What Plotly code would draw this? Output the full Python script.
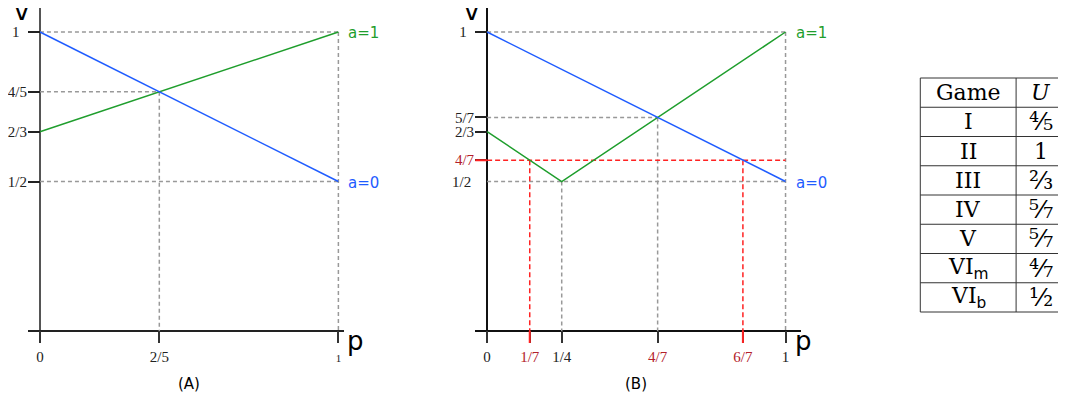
import plotly.graph_objects as go

W, H = 1066, 398
OFF = 8  # the page body adds an 8px margin around the figure

# ---- panel (A) ----
a_p = [0, 1]
a_v_a0 = [1, 1/2]          # blue, a=0
a_v_a1 = [2/3, 1]          # green, a=1
a_xticks = [0, 2/5, 1]
a_xlabels = ["0", "2/5", "<span style='font-size:11px'>1</span>"]
a_yticks = [1, 4/5, 2/3, 1/2]
a_ylabels = ["1\u2007", "4/5", "2/3", "1/2"]
a_hguides = [(1, 1), (4/5, 2/5), (1/2, 1)]   # (v level, p end)
a_vguides = [(1, 1), (2/5, 4/5)]             # (p, v end)

# ---- panel (B) ----
b_p_a0 = [0, 1]
b_v_a0 = [1, 1/2]
b_p_a1 = [0, 1/4, 1]
b_v_a1 = [2/3, 1/2, 1]
b_xticks = [0, 1/7, 1/4, 4/7, 6/7, 1]
b_xlabels = ["0", "1/7", "1/4", "4/7", "6/7", "1"]
b_yticks = [1, 5/7, 2/3, 4/7]
b_ylabels = ["1\u2007", "5/7", "2/3", "4/7"]
b_red_ticks = ["1/7", "6/7", "4/7"]
b_hguides = [(1, 1), (5/7, 4/7), (1/2, 1)]
b_vguides = [(1, 1), (4/7, 5/7), (1/4, 1/2)]
b_red_h = [(4/7, 1)]
b_red_v = [(1/7, 4/7), (6/7, 4/7)]

# ---- table ----
table_header = ["Game", "<i>U</i>"]
games = ["I", "II", "III", "IV", "V",
         "VI<sub><span style=\"font-family:DejaVu Sans\">m</span></sub>",
         "VI<sub><span style=\"font-family:DejaVu Sans\">b</span></sub>"]
u_vals = ["\u2074\u2044\u2085", "1", "\u00b2\u2044\u2083", "\u2075\u2044\u2087",
          "\u2075\u2044\u2087", "\u2074\u2044\u2087", "\u00b9\u2044\u2082"]

GREEN = "#1f9e2d"
BLUE = "#1f5cff"
RED = "#ff2222"
DARKRED = "#b3202a"
GREY = "#999999"
TICKFONT = dict(family="Liberation Serif", size=15, color="#222")
PX = 299  # pixels per unit


def fx(px):
    return (px - OFF) / W


def fy(px):
    return (H - (px - OFF)) / H


def red(s):
    return "<span style='color:%s'>%s</span>" % (DARKRED, s)


def guides(hs, vs):
    xs, ys = [], []
    for v, pe in hs:
        xs += [0, pe, None]
        ys += [v, v, None]
    for p, ve in vs:
        xs += [p, p, None]
        ys += [ve, 0, None]
    return xs, ys


fig = go.Figure()

# panel A traces
gx, gy = guides(a_hguides, a_vguides)
fig.add_trace(go.Scatter(x=gx, y=gy, mode="lines", xaxis="x", yaxis="y",
                         line=dict(color=GREY, width=1.5, dash="4px,3px")))
fig.add_trace(go.Scatter(x=a_p, y=a_v_a1, mode="lines", xaxis="x", yaxis="y",
                         line=dict(color=GREEN, width=1.5)))
fig.add_trace(go.Scatter(x=a_p, y=a_v_a0, mode="lines", xaxis="x", yaxis="y",
                         line=dict(color=BLUE, width=1.5)))

# panel B traces
gx, gy = guides(b_hguides, b_vguides)
fig.add_trace(go.Scatter(x=gx, y=gy, mode="lines", xaxis="x2", yaxis="y2",
                         line=dict(color=GREY, width=1.5, dash="4px,3px")))
rx, ry = guides(b_red_h, b_red_v)
fig.add_trace(go.Scatter(x=rx, y=ry, mode="lines", xaxis="x2", yaxis="y2",
                         line=dict(color=RED, width=1.5, dash="5px,3px")))
fig.add_trace(go.Scatter(x=b_p_a1, y=b_v_a1, mode="lines", xaxis="x2", yaxis="y2",
                         line=dict(color=GREEN, width=1.5)))
fig.add_trace(go.Scatter(x=b_p_a0, y=b_v_a0, mode="lines", xaxis="x2", yaxis="y2",
                         line=dict(color=BLUE, width=1.5)))

lo = -12 / PX
ydom = [fy(343), fy(8)]
yr = [lo, 323 / PX]


def xax(dom, hi, ticks, labels, zc, zw):
    return dict(domain=dom, range=[lo, hi], showgrid=False, showline=False,
                zeroline=True, zerolinecolor=zc, zerolinewidth=zw,
                ticks="inside", ticklen=12, tickwidth=2, tickcolor="#333",
                tickvals=ticks, ticktext=labels, tickfont=TICKFONT,
                ticklabelstandoff=3, fixedrange=True)


def yax(anchor, ticks, labels, zc, zw):
    return dict(domain=ydom, range=yr, anchor=anchor, showgrid=False,
                showline=False, zeroline=True, zerolinecolor=zc, zerolinewidth=zw,
                ticks="inside", ticklen=12, tickwidth=2, tickcolor="#222",
                tickvals=ticks, ticktext=labels, tickfont=TICKFONT,
                fixedrange=True)


b_xtext = [red(t) if t in b_red_ticks else t for t in b_xlabels]
b_ytext = [red(t) if t in b_red_ticks else t for t in b_ylabels]

# red ticks drawn over the default ones
shapes = []
for p, _ in b_red_v:
    shapes.append(dict(type="line", xref="x2", yref="y2", x0=p, x1=p, y0=lo, y1=0,
                       line=dict(color=RED, width=2), layer="above"))
for v, _ in b_red_h:
    shapes.append(dict(type="line", xref="x2", yref="y2", x0=lo, x1=0, y0=v, y1=v,
                       line=dict(color=RED, width=2), layer="above"))

label_font = dict(family="DejaVu Sans", size=26, color="black")
cap_font = dict(family="DejaVu Sans", size=15, color="black")
ann = [
    dict(text="v", xref="paper", yref="paper", x=fx(20), y=fy(11),
         showarrow=False, font=label_font, xanchor="center", yanchor="middle"),
    dict(text="p", xref="paper", yref="paper", x=fx(344), y=fy(341),
         showarrow=False, font=label_font, xanchor="left", yanchor="middle"),
    dict(text="v", xref="paper", yref="paper", x=fx(470), y=fy(11),
         showarrow=False, font=label_font, xanchor="center", yanchor="middle"),
    dict(text="p", xref="paper", yref="paper", x=fx(792), y=fy(341),
         showarrow=False, font=label_font, xanchor="left", yanchor="middle"),
    dict(text="(A)", xref="x", yref="paper", x=0.5, y=fy(384),
         showarrow=False, font=cap_font, yanchor="middle"),
    dict(text="(B)", xref="x2", yref="paper", x=0.5, y=fy(384),
         showarrow=False, font=cap_font, yanchor="middle"),
    dict(text="1/2", xref="x2", yref="y2", x=0, y=1/2, xanchor="right",
         xshift=-14, showarrow=False, font=TICKFONT, yanchor="middle"),
]
for xr, yr_, pe, v_a1, v_a0 in [("x", "y", a_p[-1], a_v_a1[-1], a_v_a0[-1]),
                                ("x2", "y2", b_p_a0[-1], b_v_a1[-1], b_v_a0[-1])]:
    ann.append(dict(text="a=1", xref=xr, yref=yr_, x=pe, y=v_a1, xanchor="left",
                    xshift=8, yshift=-1, showarrow=False,
                    font=dict(family="DejaVu Sans", size=15, color=GREEN)))
    ann.append(dict(text="a=0", xref=xr, yref=yr_, x=pe, y=v_a0, xanchor="left",
                    xshift=8, yshift=-1, showarrow=False,
                    font=dict(family="DejaVu Sans", size=15, color=BLUE)))

# ---- table drawn as a grid of lines with centred text ----
t_left, t_mid, t_right = 920, 1016, 1068
t_top, row_h = 78, 29.25
rows = [table_header] + [[g, u] for g, u in zip(games, u_vals)]
t_bottom = t_top + row_h * len(rows)
tline = dict(color="#333", width=1)
for i in range(len(rows) + 1):
    yy = fy(t_top + i * row_h)
    shapes.append(dict(type="line", xref="paper", yref="paper", x0=fx(t_left),
                       x1=fx(t_right), y0=yy, y1=yy, line=tline))
for xx in (t_left, t_mid):
    shapes.append(dict(type="line", xref="paper", yref="paper", x0=fx(xx), x1=fx(xx),
                       y0=fy(t_top), y1=fy(t_bottom), line=tline))
for i, row in enumerate(rows):
    yc = fy(t_top + (i + 0.5) * row_h)
    for j, txt in enumerate(row):
        xc = fx((t_left + t_mid) / 2) if j == 0 else fx((t_mid + 1066) / 2)
        size = 22 if (j == 0 or i == 0 or txt == "1") else 25
        ann.append(dict(text=txt, xref="paper", yref="paper", x=xc, y=yc,
                        xanchor="center", yanchor="middle", showarrow=False,
                        font=dict(family="DejaVu Serif", size=size, color="black")))

fig.update_layout(
    width=W, height=H, autosize=False,
    margin=dict(l=0, r=0, t=0, b=0),
    paper_bgcolor="white", plot_bgcolor="white",
    showlegend=False,
    xaxis=xax([fx(26), fx(343)], 305 / PX, a_xticks, a_xlabels, "#555", 2),
    yaxis=yax("x", a_yticks, a_ylabels, "#222", 1.5),
    xaxis2=xax([fx(474), fx(800)], 314 / PX, b_xticks, b_xtext, "#111", 1.5),
    yaxis2=yax("x2", b_yticks, b_ytext, "#111", 1.5),
    shapes=shapes,
    annotations=ann,
)

fig.write_html("out.html")
